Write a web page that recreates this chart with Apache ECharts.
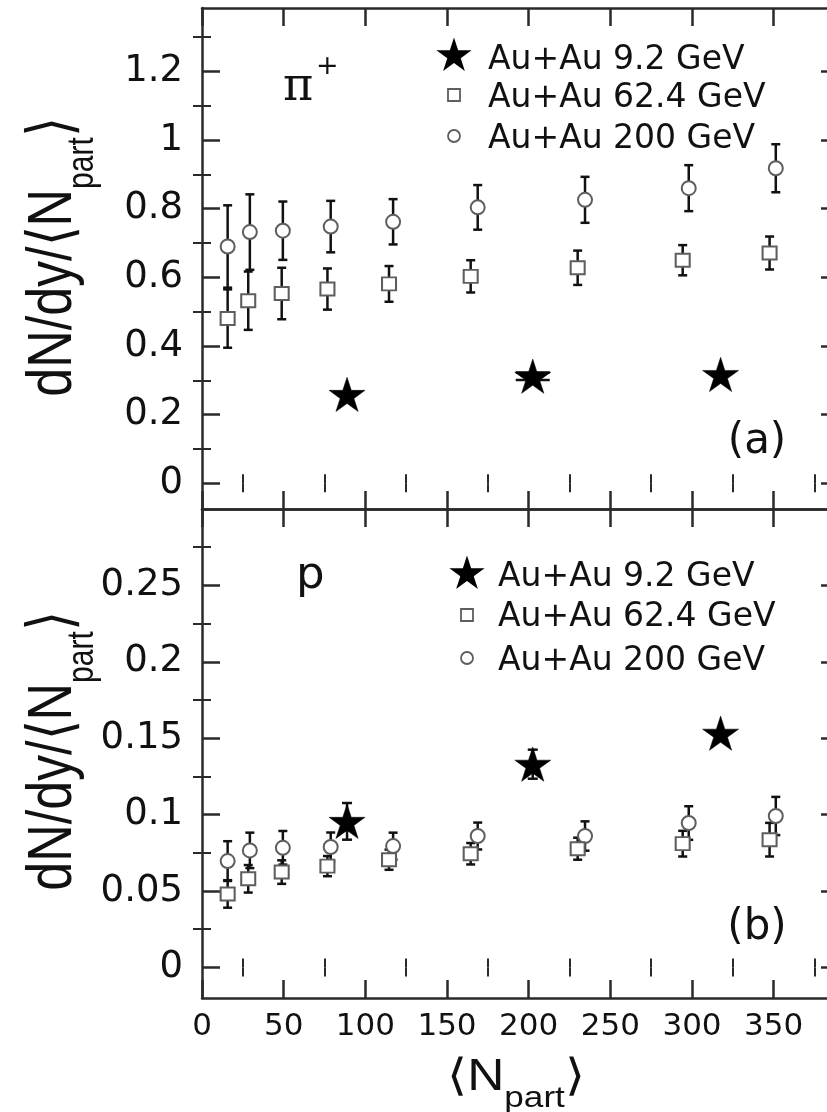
<!DOCTYPE html>
<html>
<head>
<meta charset="utf-8">
<script src="https://cdn.jsdelivr.net/npm/echarts@6/dist/echarts.min.js"></script>
<style>
  html, body { margin: 0; padding: 0; background: #fff; }
  #chart { width: 827px; height: 1112px; }
</style>
</head>
<body>
<div id="chart"></div>
<script>
// Mean number of participants per centrality class
const npart200 = [15.7, 29.3, 49.5, 78.8, 117.0, 168.8, 234.5, 298.0, 351.3];
const npart62 = [15.7, 28.3, 48.8, 76.8, 114.5, 164.5, 230.0, 294.3, 347.5];
const npart9 = [88.8, 202.5, 317.5];

// pi+ : dN/dy per participant
const pion200 = [0.690, 0.732, 0.736, 0.748, 0.762, 0.804, 0.826, 0.860, 0.918];
const pion200Err = [0.120, 0.110, 0.085, 0.075, 0.066, 0.065, 0.067, 0.067, 0.070];
const pion62 = [0.480, 0.532, 0.553, 0.566, 0.581, 0.603, 0.628, 0.650, 0.671];
const pion62Err = [0.085, 0.085, 0.075, 0.060, 0.052, 0.047, 0.050, 0.044, 0.048];
const pion9 = [0.259, 0.312, 0.317];
const pion9Err = [0, 0.011, 0];

// proton : dN/dy per participant
const proton200 = [0.0696, 0.0766, 0.0783, 0.0788, 0.0794, 0.0860, 0.0860, 0.0945, 0.0991];
const proton200Err = [0.0130, 0.0116, 0.0110, 0.0095, 0.0088, 0.0088, 0.0096, 0.0110, 0.0125];
const proton62 = [0.0481, 0.0580, 0.0624, 0.0663, 0.0705, 0.0744, 0.0777, 0.0810, 0.0836];
const proton62Err = [0.0090, 0.0090, 0.0077, 0.0066, 0.0066, 0.0070, 0.0072, 0.0084, 0.0110];
const proton9 = [0.0956, 0.1330, 0.1533];
const proton9Err = [0.0120, 0.0095, 0];

const seriesNames = ['Au+Au 9.2 GeV', 'Au+Au 62.4 GeV', 'Au+Au 200 GeV'];

// Axis ticks
const xMajor = [0, 50, 100, 150, 200, 250, 300, 350];
const xMinor = [25, 75, 125, 175, 225, 275, 325, 375];
const yMajorPion = [0, 0.2, 0.4, 0.6, 0.8, 1, 1.2];
const yMinorPion = [0.1, 0.3, 0.5, 0.7, 0.9, 1.1, 1.3];
const yMajorProton = [0, 0.05, 0.1, 0.15, 0.2, 0.25];
const yMinorProton = [0.025, 0.075, 0.125, 0.175, 0.225, 0.275];

const AX = '#2a2a2a';
const INK = '#111';
const MARK = '#5e5e5e';
const STAR_PATH = 'path://M50,0L61.23,34.55L97.55,34.55L68.17,55.9L79.39,90.45L50,69.1L20.61,90.45L31.83,55.9L2.45,34.55L38.77,34.55Z';

const chart = echarts.init(document.getElementById('chart'), null, { renderer: 'canvas' });

// text width helper for composing titles with subscripts
const measureCtx = document.createElement('canvas').getContext('2d');
function textWidth(text, size, family) {
  measureCtx.font = size + 'px "' + family + '"';
  return measureCtx.measureText(text).width;
}

// four x axes per panel: bottom/top, major/minor
function xAxisSet(gridIndex, withLabels) {
  const mk = (position, ticks, len, withLine, labels) => ({
    gridIndex, type: 'value', min: 0, max: 390, position,
    splitLine: { show: false },
    axisLine: withLine ? { show: true, onZero: false, lineStyle: { color: AX, width: 2.5 } } : { show: false },
    axisTick: { show: true, inside: true, length: len, customValues: ticks,
                lineStyle: { color: AX, width: len > 10 ? 2.5 : 2 } },
    axisLabel: labels
      ? { show: true, customValues: xMajor, margin: 13, fontSize: 31,
          fontFamily: 'DejaVu Sans', color: INK }
      : { show: false }
  });
  return [
    mk('bottom', xMajor, 18, true, withLabels),
    mk('bottom', xMinor, 9, false, false),
    mk('top', xMajor, 18, true, false),
    mk('top', xMinor, 9, false, false)
  ];
}

// four y axes per panel: left/right, major/minor
function yAxisSet(gridIndex, min, max, major, minor) {
  const mk = (position, ticks, len, withLine, labels) => ({
    gridIndex, type: 'value', min, max, position,
    splitLine: { show: false },
    axisLine: withLine ? { show: true, onZero: false, lineStyle: { color: AX, width: 2.5 } } : { show: false },
    axisTick: { show: true, inside: true, length: len, customValues: ticks,
                lineStyle: { color: AX, width: len > 10 ? 2.5 : 2 } },
    axisLabel: labels
      ? { show: true, customValues: major, margin: 19, fontSize: 37,
          fontFamily: 'DejaVu Sans', color: INK }
      : { show: false }
  });
  return [
    mk('left', major, 18, true, true),
    mk('left', minor, 9, false, false),
    mk('right', major, 18, true, false),
    mk('right', minor, 9, false, false)
  ];
}

function scatter(name, xs, ys, xi, yi, symbol, size, style) {
  return {
    type: 'scatter', name, xAxisIndex: xi, yAxisIndex: yi,
    symbol, symbolSize: size, symbolKeepAspect: true,
    itemStyle: style, z: 3, silent: true, clip: false,
    data: xs.map((x, i) => [x, ys[i]])
  };
}

function errorBars(xs, ys, errs, xi, yi, capHalf) {
  const data = [];
  xs.forEach((x, i) => { if (errs[i] > 0) data.push([x, ys[i] - errs[i], ys[i] + errs[i]]); });
  return {
    type: 'custom', xAxisIndex: xi, yAxisIndex: yi, z: 2, silent: true, clip: false,
    data,
    renderItem(params, api) {
      const x = api.value(0);
      const lo = api.coord([x, api.value(1)]);
      const hi = api.coord([x, api.value(2)]);
      const st = { stroke: INK, lineWidth: 2.5 };
      return {
        type: 'group',
        children: [
          { type: 'line', shape: { x1: lo[0], y1: lo[1], x2: hi[0], y2: hi[1] }, style: st },
          { type: 'line', shape: { x1: lo[0] - capHalf, y1: lo[1], x2: lo[0] + capHalf, y2: lo[1] }, style: st },
          { type: 'line', shape: { x1: hi[0] - capHalf, y1: hi[1], x2: hi[0] + capHalf, y2: hi[1] }, style: st }
        ]
      };
    }
  };
}

const openStyle = { color: '#fff', borderColor: MARK, borderWidth: 2, opacity: 1 };
const starStyle = { color: '#000', borderColor: '#000', borderWidth: 0.5, opacity: 1 };

function panelSeries(xi, yi, v9, e9, v62, e62, v200, e200, starCap) {
  return [
    errorBars(npart200, v200, e200, xi, yi, 4.5),
    errorBars(npart62, v62, e62, xi, yi, 4.5),
    errorBars(npart9, v9, e9, xi, yi, starCap),
    scatter(seriesNames[2], npart200, v200, xi, yi, 'circle', 14, openStyle),
    scatter(seriesNames[1], npart62, v62, xi, yi, 'rect', [14, 13], openStyle),
    scatter(seriesNames[0], npart9, v9, xi, yi, STAR_PATH, 36, starStyle)
  ];
}

// legend icons and text
function starPoints(cx, cy, R) {
  const pts = [];
  for (let k = 0; k < 10; k++) {
    const r = k % 2 === 0 ? R : R * 0.382;
    const a = -Math.PI / 2 + k * Math.PI / 5;
    pts.push([cx + r * Math.cos(a), cy + r * Math.sin(a)]);
  }
  return pts;
}

function legendBlock(ix, tx, rows) {
  const font = { fontSize: 33, fontFamily: 'DejaVu Sans', fill: INK, verticalAlign: 'middle', align: 'left' };
  return [
    { type: 'polygon', shape: { points: starPoints(ix, rows[0][0], 18.5) }, style: { fill: '#000' } },
    { type: 'rect', shape: { x: ix - 6, y: rows[1][0] - 6, width: 12, height: 12 },
      style: { fill: '#fff', stroke: MARK, lineWidth: 1.8 } },
    { type: 'circle', shape: { cx: ix, cy: rows[2][0], r: 6 },
      style: { fill: '#fff', stroke: MARK, lineWidth: 1.8 } },
    { type: 'text', x: tx, y: rows[0][1], style: Object.assign({ text: seriesNames[0] }, font) },
    { type: 'text', x: tx, y: rows[1][1], style: Object.assign({ text: seriesNames[1] }, font) },
    { type: 'text', x: tx, y: rows[2][1], style: Object.assign({ text: seriesNames[2] }, font) }
  ];
}

// "head" + subscript "part" + closing bracket, laid out in a group
function subscriptTitle(head, mainSize, subSize, subDrop, family, groupProps) {
  const w1 = textWidth(head, mainSize, family);
  const w2 = textWidth('part', subSize, family);
  const w3 = textWidth('⟩', mainSize, family);
  const x0 = -(w1 + w2 + w3) / 2;
  const base = { fill: INK, fontFamily: family, align: 'left', verticalAlign: 'middle' };
  return Object.assign({
    type: 'group',
    children: [
      { type: 'text', x: x0, y: 0, style: Object.assign({ text: head, fontSize: mainSize }, base) },
      { type: 'text', x: x0 + w1, y: subDrop, style: Object.assign({ text: 'part', fontSize: subSize }, base) },
      { type: 'text', x: x0 + w1 + w2, y: 0, style: Object.assign({ text: '⟩', fontSize: mainSize }, base) }
    ]
  }, groupProps);
}

const titles = [
  subscriptTitle('dN/dy/⟨N', 52, 30, 24, 'Liberation Sans',
    { x: 54, y: 257, rotation: Math.PI / 2, scaleY: 1.2 }),
  subscriptTitle('dN/dy/⟨N', 52, 30, 24, 'Liberation Sans',
    { x: 54, y: 751, rotation: Math.PI / 2, scaleY: 1.2 }),
  subscriptTitle('⟨N', 44, 30, 21, 'Liberation Sans',
    { x: 516, y: 1078, scaleX: 1.17 })
];

const panelText = [
  { type: 'text', x: 283, y: 88, style: { text: 'π', fontSize: 46, fontFamily: 'DejaVu Serif', fill: INK, align: 'left', verticalAlign: 'middle' } },
  { type: 'text', x: 316, y: 67, style: { text: '+', fontSize: 27, fontFamily: 'DejaVu Sans', fill: INK, align: 'left', verticalAlign: 'middle' } },
  { type: 'text', x: 296, y: 576, style: { text: 'p', fontSize: 45, fontFamily: 'DejaVu Sans', fill: INK, align: 'left', verticalAlign: 'middle' } },
  { type: 'text', x: 757, y: 442, style: { text: '(a)', fontSize: 42, fontFamily: 'DejaVu Sans', fill: INK, align: 'center', verticalAlign: 'middle' } },
  { type: 'text', x: 757, y: 928, style: { text: '(b)', fontSize: 42, fontFamily: 'DejaVu Sans', fill: INK, align: 'center', verticalAlign: 'middle' } }
];

const option = {
  backgroundColor: '#fff',
  animation: false,
  grid: [
    { left: 202, top: 8, width: 637, height: 501, containLabel: false, outerBoundsMode: 'none' },
    { left: 202, top: 509, width: 637, height: 489, containLabel: false, outerBoundsMode: 'none' }
  ],
  xAxis: [].concat(xAxisSet(0, false), xAxisSet(1, true)),
  yAxis: [].concat(
    yAxisSet(0, -0.075, 1.385, yMajorPion, yMinorPion),
    yAxisSet(1, -0.02, 0.3, yMajorProton, yMinorProton)
  ),
  series: [].concat(
    panelSeries(0, 0, pion9, pion9Err, pion62, pion62Err, pion200, pion200Err, 17),
    panelSeries(4, 4, proton9, proton9Err, proton62, proton62Err, proton200, proton200Err, 5)
  ),
  graphic: [].concat(
    legendBlock(454, 488, [[56, 60], [95, 98], [136, 139]]),
    legendBlock(467, 498, [[574, 577], [615, 617], [658, 661]]),
    panelText,
    titles
  )
};

chart.setOption(option);
</script>
</body>
</html>
